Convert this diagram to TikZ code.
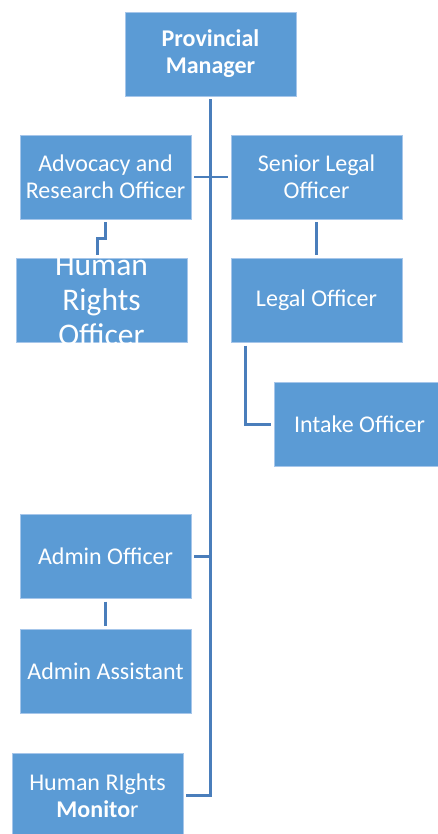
\documentclass[tikz,border=0pt]{standalone}
\usepackage{fontspec}
\setmainfont{Carlito}
\definecolor{boxfill}{HTML}{5B9BD5}
\definecolor{boxborder}{HTML}{A6C6EA}
\definecolor{linkcol}{HTML}{4A7EBB}
\tikzset{
  box/.style={draw=boxborder, line width=0.8pt, fill=boxfill, minimum width=171pt,
    minimum height=84pt, inner sep=0pt, text=white, align=center,
    font=\fontsize{24}{27}\selectfont},
  bigtext/.style={inner sep=0pt, text=white, align=center, font=\fontsize{31.5}{35}\selectfont},
  link/.style={draw=linkcol, line width=2.8pt, line join=miter}
}
\begin{document}
\begin{tikzpicture}[x=1pt,y=-1pt]
\useasboundingbox (0,0) rectangle (437,834);
\node[box] (pm) at (210.5,54) {\textbf{Provincial}\\\textbf{Manager}};
\node[box] (adv) at (105.5,177) {Advocacy and\\Research Officer};
\node[box] (slo) at (316.5,177) {Senior Legal\\Officer};
\node[box] (hro) at (101.5,300.3) {};
\begin{scope}
  \clip (hro.south west) rectangle (hro.north east);
  \node[bigtext] (hrot) at (hro.center) {Human\\Rights\\Officer};
\end{scope}
\node[box] (lo) at (316.5,300.3) {Legal Officer};
\node[box] (io) at (359.5,424.3) {Intake Officer};
\node[box] (ao) at (105.5,556.2) {Admin Officer};
\node[box] (aa) at (105.5,671.5) {Admin Assistant};
\node[box] (hrm) at (97.5,795.3) {Human RIghts\\\textbf{Monito}r};
% connectors
\draw[link] ([yshift=-3pt]pm.south) -- (pm.south |- hrm.east) -- ([xshift=3pt]hrm.east);
\draw[link] ([xshift=3pt]adv.east) -- ([xshift=-3pt]slo.west);
\draw[link] ([xshift=3pt]ao.east) -- (pm.south |- ao.east);
\draw[link] ([yshift=-3pt]adv.south) -- ++(0,16) -| ([xshift=-4pt,yshift=3pt]hro.north);
\draw[link] ([yshift=-3pt]slo.south) -- ([yshift=3pt]lo.north);
\draw[link] ([xshift=15pt,yshift=-3pt]lo.south west) |- ([xshift=-3pt]io.west);
\draw[link] ([yshift=-3pt]ao.south) -- ([yshift=3pt]aa.north);
\end{tikzpicture}
\end{document}
